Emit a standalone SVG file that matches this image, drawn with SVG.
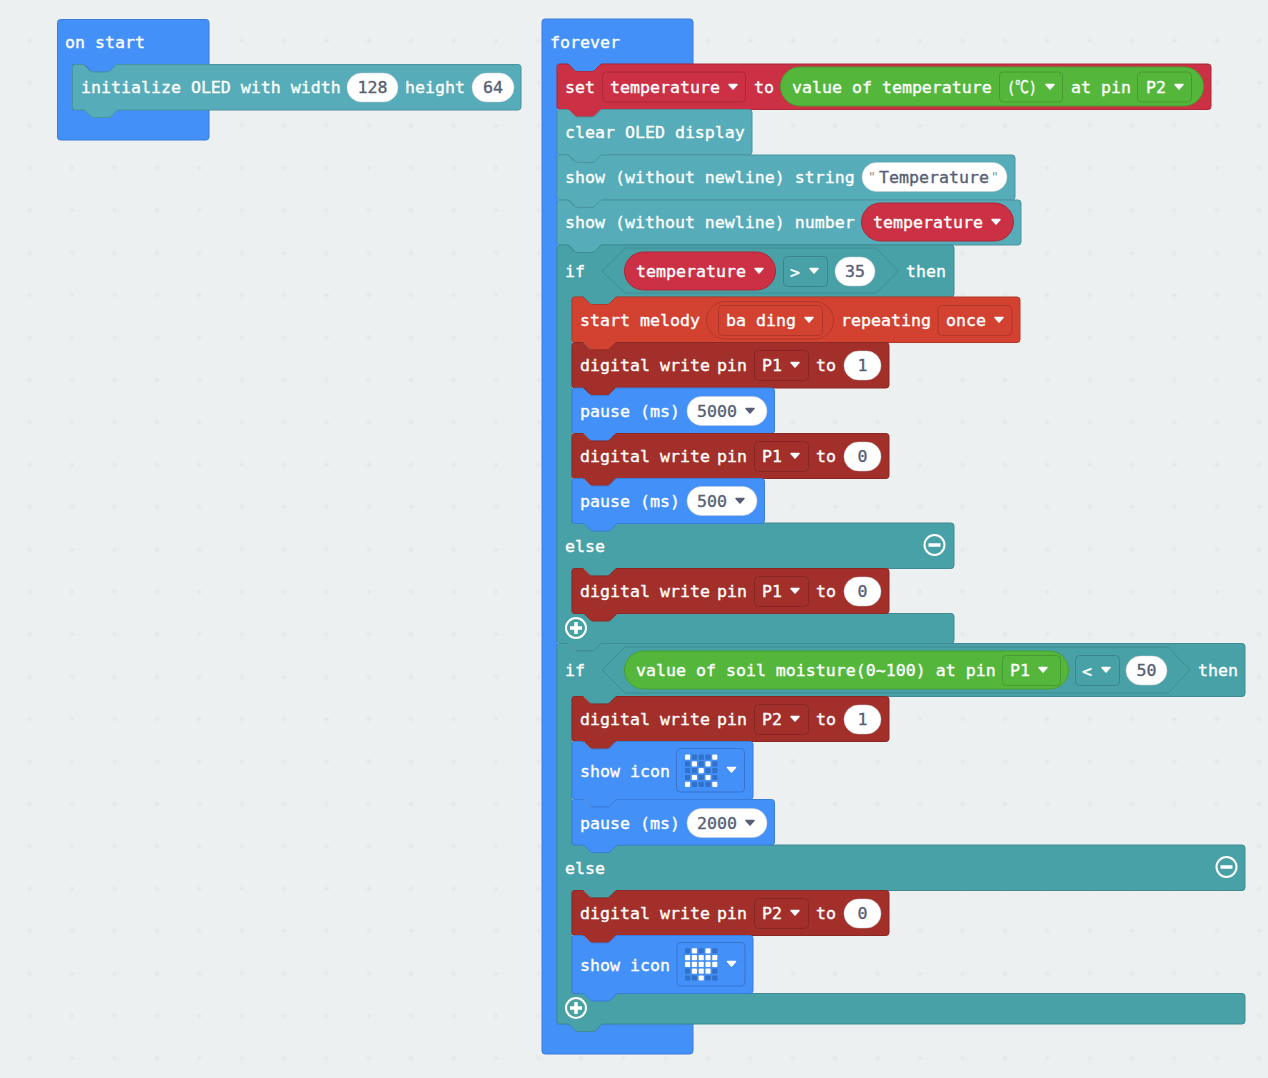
<svg xmlns="http://www.w3.org/2000/svg" xmlns:xlink="http://www.w3.org/1999/xlink" width="1268" height="1078" viewBox="0 0 1268 1078">
<style>
text{font-family:"DejaVu Sans Mono","Liberation Mono","Noto Sans CJK SC",monospace;font-size:16.6px;fill:#fff;stroke:#fff;stroke-width:.35px;white-space:pre}
text.v{fill:#575e75;stroke:#575e75}
text.m{text-anchor:middle}
.b{stroke-width:1}
.blue{fill:#4390f9;stroke:#3a7dd8}
.teal{fill:#56acb8;stroke:#4a949f}
.logic{fill:#48a1a7;stroke:#3f8b91}
.red{fill:#cb3045;stroke:#ad293b}
.green{fill:#54b73b;stroke:#489d32}
.mel{fill:#d34231;stroke:#b3382a}
.pin{fill:#a32f2a;stroke:#8b2824}
.dred{fill:#cb3045;stroke:#ad293b}
.dgreen{fill:#54b73b;stroke:#469a31}
.dmel{fill:#d34231;stroke:#af3729}
.dpin{fill:#a32f2a;stroke:#872622}
.dteal{fill:#48a1a7;stroke:#3c8489}
.dblue{fill:#4390f9;stroke:#3874cc}
.white{fill:#fff;stroke:#c9ccd2;stroke-width:.5}
.off{fill:#3171c9}
.on{fill:#fff}
.ar{fill:#fff;stroke:#fff;stroke-linejoin:round;stroke-width:1.5}
.arv{fill:#575e75;stroke:#575e75;stroke-linejoin:round;stroke-width:1.5}
.ring{fill:none;stroke:#fff;stroke-width:2}
</style>
<defs>
<pattern id="grid" x="29.7" y="-1.7" width="42.4" height="42.4" patternUnits="userSpaceOnUse">
<path d="M-3,0H3M0,-3V3M39.4,0H45.4M42.4,-3V3M-3,42.4H3M0,39.4V45.4M39.4,42.4H45.4M42.4,39.4V45.4" stroke="#e1e5e7" stroke-width="1"/>
</pattern>
<path id="arrow" d="M-4,-2.5H4L0,2z"/>
<rect id="l" width="5.2" height="5.2" rx="0.8"/>
<g id="row" class="off"><use href="#l" x="0"/><use href="#l" x="6.8"/><use href="#l" x="13.6"/><use href="#l" x="20.4"/><use href="#l" x="27.2"/></g>
<g id="leds"><use href="#row" y="0"/><use href="#row" y="6.8"/><use href="#row" y="13.6"/><use href="#row" y="20.4"/><use href="#row" y="27.2"/></g>
</defs>
<rect width="1268" height="1078" fill="#ecf0f1"/>
<rect width="1268" height="1078" fill="url(#grid)"/>

<g id="on-start">
<path class="blue b" d="M60.5,19.5H206q3,0 3,3V64.5H117.5l-6.5,6.5q-1,1 -2.5,1h-15q-1.5,0 -2.5,-1l-6.5,-6.5H72.500V110H209V137q0,3 -3,3H60.5q-3,0 -3,-3V22.5q0,-3 3,-3z"/>
<text x="65" y="48">on start</text>
</g>
<g id="init-oled">
<path class="teal b" d="M72.5,67.5q0,-3 3,-3H83.5l6.5,6.5q1,1 2.5,1h15q1.5,0 2.5,-1l6.500,-6.500H518q3,0 3,3V107q0,3 -3,3H117.5l-6.5,6.5q-1,1 -2.5,1h-15q-1.5,0 -2.5,-1l-6.5,-6.5H75.5q-3,0 -3,-3z"/>
<text x="81" y="93">initialize OLED with width</text>
<rect class="white" x="347" y="73" width="51" height="29" rx="14.5"/>
<text class="v m" x="372.5" y="93">128</text>
<text x="405" y="93">height</text>
<rect class="white" x="472" y="73" width="42" height="29" rx="14.5"/>
<text class="v m" x="493" y="93">64</text>
</g>

<g id="forever">
<path class="blue b" d="M545,19H690q3,0 3,3V64H602l-6.5,6.5q-1,1 -2.5,1h-15q-1.5,0 -2.5,-1l-6.5,-6.5H557V1024H693V1051q0,3 -3,3H545q-3,0 -3,-3V22q0,-3 3,-3z"/>
<text x="550" y="48">forever</text>
</g>

<g id="set-temperature">
<path class="red b" d="M557,67q0,-3 3,-3H568l6.5,6.5q1,1 2.5,1h15q1.5,0 2.5,-1l6.5,-6.5H1208q3,0 3,3V106.5q0,3 -3,3H602l-6.5,6.5q-1,1 -2.5,1h-15q-1.5,0 -2.5,-1l-6.5,-6.5H560q-3,0 -3,-3z"/>
<text x="565" y="93">set</text>
<rect class="dred" x="602.5" y="72" width="143" height="30" rx="4"/>
<text x="610" y="93">temperature</text>
<use href="#arrow" class="ar" x="733" y="87"/>
<text x="754" y="93">to</text>
<rect class="green" x="780.5" y="67" width="423" height="39" rx="19.5"/>
<text x="792" y="93">value of temperature</text>
<rect class="dgreen" x="999.5" y="72" width="63" height="30" rx="4"/>
<text x="1007" y="93" textLength="30" lengthAdjust="spacingAndGlyphs">(℃)</text>
<use href="#arrow" class="ar" x="1050" y="87"/>
<text x="1071" y="93">at pin</text>
<rect class="dgreen" x="1137.5" y="72" width="54" height="30" rx="4"/>
<text x="1146" y="93">P2</text>
<use href="#arrow" class="ar" x="1179" y="87"/>
</g>

<g id="clear-oled">
<path class="teal b" d="M557,112.5q0,-3 3,-3H568l6.5,6.5q1,1 2.5,1h15q1.5,0 2.5,-1l6.5,-6.5H749q3,0 3,3V152q0,3 -3,3H602l-6.5,6.5q-1,1 -2.5,1h-15q-1.5,0 -2.5,-1l-6.5,-6.5H560q-3,0 -3,-3z"/>
<text x="565" y="138">clear OLED display</text>
</g>

<g id="show-string">
<path class="teal b" d="M557,158q0,-3 3,-3H568l6.5,6.5q1,1 2.5,1h15q1.5,0 2.5,-1l6.5,-6.5H1012q3,0 3,3V197q0,3 -3,3H602l-6.5,6.5q-1,1 -2.5,1h-15q-1.5,0 -2.5,-1l-6.5,-6.5H560q-3,0 -3,-3z"/>
<text x="565" y="183">show (without newline) string</text>
<rect class="white" x="862" y="162.500" width="145" height="29" rx="14.500"/>
<text class="v" x="868" y="183"><tspan font-size="13" fill="#8a8f9e" stroke="none" dy="-2">"</tspan><tspan x="879" dy="2">Temperature</tspan><tspan x="991" font-size="13" fill="#8a8f9e" stroke="none" dy="-2">"</tspan></text>
</g>

<g id="show-number">
<path class="teal b" d="M557,203q0,-3 3,-3H568l6.5,6.5q1,1 2.5,1h15q1.5,0 2.5,-1l6.5,-6.5H1018q3,0 3,3V242q0,3 -3,3H602l-6.5,6.5q-1,1 -2.5,1h-15q-1.5,0 -2.5,-1l-6.5,-6.5H560q-3,0 -3,-3z"/>
<text x="565" y="228">show (without newline) number</text>
<rect class="red" x="861.500" y="203" width="152" height="38" rx="19"/>
<text x="873" y="228">temperature</text>
<use href="#arrow" class="ar" x="996" y="222"/>
</g>

<g id="if-temperature">
<path class="logic b" d="M557,248q0,-3 3,-3H568l6.5,6.5q1,1 2.5,1h15q1.5,0 2.5,-1l6.5,-6.5H951q3,0 3,3V294q0,3 -3,3H617l-6.5,6.5q-1,1 -2.5,1h-15q-1.5,0 -2.5,-1l-6.5,-6.5H572V523H951q3,0 3,3V565.500q0,3 -3,3H617l-6.5,6.5q-1,1 -2.5,1h-15q-1.5,0 -2.5,-1l-6.5,-6.5H572V613.500H951q3,0 3,3V640.500q0,3 -3,3H602l-6.500,6.500q-1,1 -2.500,1h-15q-1.500,0 -2.500,-1l-6.500,-6.500H560q-3,0 -3,-3z"/>
<path class="logic b" d="M602,271L625,248H876L898,271L876,293H625z"/>
<text x="565" y="277">if</text>
<rect class="red" x="624.500" y="252" width="151" height="38" rx="19"/>
<text x="636" y="277">temperature</text>
<use href="#arrow" class="ar" x="759" y="271"/>
<rect class="dteal" x="783.500" y="256.500" width="44" height="30" rx="4"/>
<text x="790" y="278">&gt;</text>
<use href="#arrow" class="ar" x="814" y="271"/>
<rect class="white" x="835" y="257" width="40" height="29" rx="14.500"/>
<text class="v m" x="855" y="277">35</text>
<text x="906" y="277">then</text>
<text x="565" y="552">else</text>
<circle class="ring" cx="934.500" cy="545" r="10"/>
<path d="M928.500,545h12" stroke="#fff" stroke-width="3.500"/>
<circle class="ring" cx="576" cy="628" r="10"/>
<path d="M570,628h12M576,622v12" stroke="#fff" stroke-width="3.500"/>
</g>

<g id="melody">
<path class="mel b" d="M572,300q0,-3 3,-3H583l6.500,6.500q1,1 2.500,1h15q1.500,0 2.500,-1l6.500,-6.500H1017q3,0 3,3V339.500q0,3 -3,3H617l-6.500,6.500q-1,1 -2.500,1h-15q-1.500,0 -2.500,-1l-6.500,-6.500H575q-3,0 -3,-3z"/>
<text x="580" y="326">start melody</text>
<rect class="dmel" x="706.500" y="301.500" width="127" height="37.500" rx="18.700"/>
<rect class="dmel" x="718.500" y="305.500" width="104" height="30" rx="4"/>
<text x="726" y="326">ba ding</text>
<use href="#arrow" class="ar" x="809" y="320"/>
<text x="841" y="326">repeating</text>
<rect class="dmel" x="938" y="305.500" width="74" height="30" rx="4"/>
<text x="946" y="326">once</text>
<use href="#arrow" class="ar" x="999" y="320"/>
</g>

<g id="digital-p1-1">
<path class="pin b" d="M572,345.500q0,-3 3,-3H583l6.500,6.500q1,1 2.500,1h15q1.500,0 2.500,-1l6.500,-6.500H886q3,0 3,3V385q0,3 -3,3H617l-6.500,6.500q-1,1 -2.500,1h-15q-1.500,0 -2.500,-1l-6.500,-6.500H575q-3,0 -3,-3z"/>
<text x="580" y="371">digital write</text><text x="717" y="371">pin</text>
<rect class="dpin" x="754.500" y="350.500" width="54" height="30" rx="4"/>
<text x="762" y="371">P1</text>
<use href="#arrow" class="ar" x="795" y="365"/>
<text x="816" y="371">to</text>
<rect class="white" x="844" y="351" width="37" height="29" rx="14.500"/>
<text class="v m" x="862.500" y="371">1</text>
</g>

<g id="pause-5000">
<path class="blue b" d="M572,391q0,-3 3,-3H583l6.500,6.500q1,1 2.500,1h15q1.500,0 2.500,-1l6.500,-6.500H771.500q3,0 3,3V430.500q0,3 -3,3H617l-6.500,6.500q-1,1 -2.500,1h-15q-1.500,0 -2.500,-1l-6.500,-6.500H575q-3,0 -3,-3z"/>
<text x="580" y="417">pause (ms)</text>
<rect class="white" x="687" y="396.500" width="80" height="29" rx="14.500"/>
<text class="v" x="697" y="417">5000</text>
<use href="#arrow" class="arv" x="750" y="411"/>
</g>

<g id="digital-p1-0">
<path class="pin b" d="M572,436.500q0,-3 3,-3H583l6.500,6.500q1,1 2.500,1h15q1.500,0 2.500,-1l6.500,-6.500H886q3,0 3,3V475.500q0,3 -3,3H617l-6.500,6.500q-1,1 -2.500,1h-15q-1.500,0 -2.500,-1l-6.500,-6.500H575q-3,0 -3,-3z"/>
<text x="580" y="462">digital write</text><text x="717" y="462">pin</text>
<rect class="dpin" x="754.500" y="441.500" width="54" height="30" rx="4"/>
<text x="762" y="462">P1</text>
<use href="#arrow" class="ar" x="795" y="456"/>
<text x="816" y="462">to</text>
<rect class="white" x="844" y="442" width="37" height="29" rx="14.500"/>
<text class="v m" x="862.500" y="462">0</text>
</g>

<g id="pause-500">
<path class="blue b" d="M572,481.500q0,-3 3,-3H583l6.500,6.500q1,1 2.500,1h15q1.500,0 2.500,-1l6.500,-6.500H761.500q3,0 3,3V520.500q0,3 -3,3H617l-6.500,6.500q-1,1 -2.500,1h-15q-1.500,0 -2.500,-1l-6.500,-6.500H575q-3,0 -3,-3z"/>
<text x="580" y="507">pause (ms)</text>
<rect class="white" x="687" y="486.500" width="70" height="29" rx="14.500"/>
<text class="v" x="697" y="507">500</text>
<use href="#arrow" class="arv" x="740" y="501"/>
</g>

<g id="digital-p1-else">
<path class="pin b" d="M572,571.500q0,-3 3,-3H583l6.500,6.500q1,1 2.500,1h15q1.500,0 2.500,-1l6.500,-6.500H886q3,0 3,3V610.500q0,3 -3,3H617l-6.500,6.500q-1,1 -2.500,1h-15q-1.500,0 -2.500,-1l-6.500,-6.500H575q-3,0 -3,-3z"/>
<text x="580" y="597">digital write</text><text x="717" y="597">pin</text>
<rect class="dpin" x="754.500" y="576.500" width="54" height="30" rx="4"/>
<text x="762" y="597">P1</text>
<use href="#arrow" class="ar" x="795" y="591"/>
<text x="816" y="597">to</text>
<rect class="white" x="844" y="577" width="37" height="29" rx="14.500"/>
<text class="v m" x="862.500" y="597">0</text>
</g>

<g id="if-soil">
<path class="logic b" d="M557,646.500q0,-3 3,-3H568l6.500,6.500q1,1 2.500,1h15q1.500,0 2.500,-1l6.500,-6.500H1242q3,0 3,3V693.500q0,3 -3,3H617l-6.5,6.5q-1,1 -2.500,1h-15q-1.500,0 -2.500,-1l-6.500,-6.500H572V845H1242q3,0 3,3V887.500q0,3 -3,3H617l-6.5,6.5q-1,1 -2.500,1h-15q-1.500,0 -2.500,-1l-6.500,-6.500H572V993.500H1242q3,0 3,3V1021q0,3 -3,3H602l-6.5,6.5q-1,1 -2.5,1h-15q-1.5,0 -2.5,-1l-6.5,-6.5H560q-3,0 -3,-3z"/>
<path class="logic b" d="M602,670L625,647H1168L1190,670L1168,693H625z"/>
<text x="565" y="676">if</text>
<rect class="green" x="624.500" y="651" width="444" height="38" rx="19"/>
<text x="636" y="676">value of soil moisture(0~100) at pin</text>
<rect class="dgreen" x="1002.500" y="655.500" width="58" height="30" rx="4"/>
<text x="1010" y="676">P1</text>
<use href="#arrow" class="ar" x="1043" y="670"/>
<rect class="dteal" x="1075.500" y="655.500" width="44" height="30" rx="4"/>
<text x="1082" y="677">&lt;</text>
<use href="#arrow" class="ar" x="1106" y="670"/>
<rect class="white" x="1126" y="656" width="41" height="29" rx="14.500"/>
<text class="v m" x="1146.500" y="676">50</text>
<text x="1198" y="676">then</text>
<text x="565" y="874">else</text>
<circle class="ring" cx="1226.500" cy="867" r="10"/>
<path d="M1220.500,867h12" stroke="#fff" stroke-width="3.500"/>
<circle class="ring" cx="576" cy="1008" r="10"/>
<path d="M570,1008h12M576,1002v12" stroke="#fff" stroke-width="3.500"/>
</g>

<g id="digital-p2-1">
<path class="pin b" d="M572,699.500q0,-3 3,-3H583l6.500,6.500q1,1 2.500,1h15q1.500,0 2.500,-1l6.500,-6.500H886q3,0 3,3V738.500q0,3 -3,3H617l-6.500,6.500q-1,1 -2.500,1h-15q-1.500,0 -2.500,-1l-6.500,-6.500H575q-3,0 -3,-3z"/>
<text x="580" y="725">digital write</text><text x="717" y="725">pin</text>
<rect class="dpin" x="754.500" y="704.500" width="54" height="30" rx="4"/>
<text x="762" y="725">P2</text>
<use href="#arrow" class="ar" x="795" y="719"/>
<text x="816" y="725">to</text>
<rect class="white" x="844" y="705" width="37" height="29" rx="14.500"/>
<text class="v m" x="862.500" y="725">1</text>
</g>

<g id="show-icon-x">
<path class="blue b" d="M572,744.500q0,-3 3,-3H583l6.500,6.500q1,1 2.500,1h15q1.500,0 2.500,-1l6.500,-6.500H750q3,0 3,3V796.500q0,3 -3,3H617l-6.500,6.500q-1,1 -2.500,1h-15q-1.500,0 -2.500,-1l-6.500,-6.500H575q-3,0 -3,-3z"/>
<text x="580" y="777">show icon</text>
<rect class="dblue" x="676.500" y="748.500" width="68" height="43.500" rx="4"/>
<use href="#leds" x="685" y="754.500"/>
<g class="on">
<use href="#l" x="685" y="754.500"/><use href="#l" x="712.200" y="754.500"/>
<use href="#l" x="691.800" y="761.300"/><use href="#l" x="705.400" y="761.300"/>
<use href="#l" x="698.600" y="768.100"/>
<use href="#l" x="691.800" y="774.900"/><use href="#l" x="705.400" y="774.900"/>
<use href="#l" x="685" y="781.700"/><use href="#l" x="712.200" y="781.700"/>
</g>
<use href="#arrow" class="ar" x="731.500" y="770"/>
</g>

<g id="pause-2000">
<path class="blue b" d="M572,802.500q0,-3 3,-3H583l6.500,6.500q1,1 2.500,1h15q1.500,0 2.500,-1l6.500,-6.500H771.500q3,0 3,3V842q0,3 -3,3H617l-6.500,6.500q-1,1 -2.500,1h-15q-1.500,0 -2.500,-1l-6.500,-6.500H575q-3,0 -3,-3z"/>
<text x="580" y="829">pause (ms)</text>
<rect class="white" x="687" y="808.500" width="80" height="29" rx="14.500"/>
<text class="v" x="697" y="829">2000</text>
<use href="#arrow" class="arv" x="750" y="823"/>
</g>

<g id="digital-p2-0">
<path class="pin b" d="M572,893.500q0,-3 3,-3H583l6.500,6.500q1,1 2.500,1h15q1.500,0 2.500,-1l6.500,-6.500H886q3,0 3,3V932.500q0,3 -3,3H617l-6.500,6.500q-1,1 -2.500,1h-15q-1.500,0 -2.500,-1l-6.500,-6.500H575q-3,0 -3,-3z"/>
<text x="580" y="919">digital write</text><text x="717" y="919">pin</text>
<rect class="dpin" x="754.500" y="898.500" width="54" height="30" rx="4"/>
<text x="762" y="919">P2</text>
<use href="#arrow" class="ar" x="795" y="913"/>
<text x="816" y="919">to</text>
<rect class="white" x="844" y="899" width="37" height="29" rx="14.500"/>
<text class="v m" x="862.500" y="919">0</text>
</g>

<g id="show-icon-heart">
<path class="blue b" d="M572,938.500q0,-3 3,-3H583l6.500,6.500q1,1 2.500,1h15q1.500,0 2.500,-1l6.500,-6.500H750q3,0 3,3V990.500q0,3 -3,3H617l-6.500,6.500q-1,1 -2.500,1h-15q-1.500,0 -2.500,-1l-6.500,-6.500H575q-3,0 -3,-3z"/>
<text x="580" y="971">show icon</text>
<rect class="dblue" x="677" y="942.500" width="68" height="43.500" rx="4"/>
<use href="#leds" x="685" y="948.200"/>
<g class="on">
<use href="#l" x="691.800" y="948.200"/><use href="#l" x="705.400" y="948.200"/>
<use href="#l" x="685" y="955"/><use href="#l" x="691.800" y="955"/><use href="#l" x="698.600" y="955"/><use href="#l" x="705.400" y="955"/><use href="#l" x="712.200" y="955"/>
<use href="#l" x="685" y="961.800"/><use href="#l" x="691.800" y="961.800"/><use href="#l" x="698.600" y="961.800"/><use href="#l" x="705.400" y="961.800"/><use href="#l" x="712.200" y="961.800"/>
<use href="#l" x="691.800" y="968.600"/><use href="#l" x="698.600" y="968.600"/><use href="#l" x="705.400" y="968.600"/>
<use href="#l" x="698.600" y="975.400"/>
</g>
<use href="#arrow" class="ar" x="731.500" y="964"/>
</g>
</svg>
